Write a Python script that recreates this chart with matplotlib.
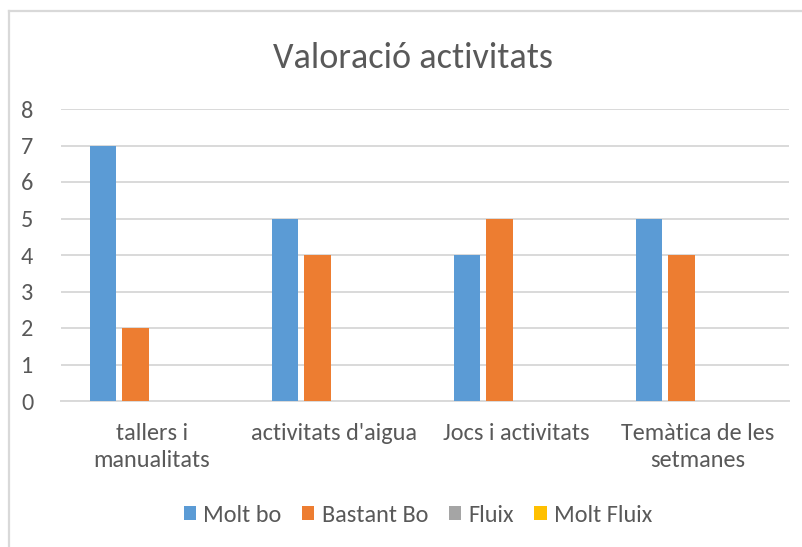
import numpy as np
import matplotlib
matplotlib.use("Agg")
import matplotlib.pyplot as plt
from matplotlib.lines import Line2D

plt.rcParams['font.family'] = ['Carlito', 'DejaVu Sans']

categories = ["tallers i\nmanualitats", "activitats d'aigua", "Jocs i activitats", "Temàtica de les\nsetmanes"]
series_names = ["Molt bo", "Bastant Bo", "Fluix", "Molt Fluix"]
molt_bo = [7, 5, 4, 5]
bastant_bo = [2, 4, 5, 4]
fluix = [0, 0, 0, 0]
molt_fluix = [0, 0, 0, 0]
colors = ["#5B9BD5", "#ED7D31", "#A5A5A5", "#FFC000"]

W, H = 803, 547
fig = plt.figure(figsize=(W / 100, H / 100), dpi=100)
ax = fig.add_axes([61 / W, 1 - 401 / H, (789 - 61) / W, (401 - 109) / H])

x = np.arange(len(categories))
step = 0.179
width = 0.146
handles = []
for i, (vals, name) in enumerate(zip([molt_bo, bastant_bo, fluix, molt_fluix], series_names)):
    b = ax.bar(x + (i - 1.5) * step, vals, width, color=colors[i], label=name, zorder=3)
    handles.append(b)

ax.set_xlim(-0.5, len(categories) - 0.5)
ax.set_ylim(0, 8)
ax.set_yticks(range(0, 9))
ax.set_xticks(x)
ax.set_xticklabels(categories, linespacing=1.35)
ax.grid(axis='y', color='#D9D9D9', linewidth=1.4, zorder=0)
for s in ['top', 'right', 'left']:
    ax.spines[s].set_visible(False)
ax.spines['bottom'].set_color('#D9D9D9')
ax.spines['bottom'].set_linewidth(1.4)
ax.tick_params(axis='both', length=0, colors='#595959', labelsize=17.5)
ax.tick_params(axis='y', pad=20)
ax.tick_params(axis='x', pad=16)

fig.text(413 / W, 1 - 58 / H, "Valoració activitats", ha='center', va='center',
         fontsize=26, color='#595959')

fig.legend(handles=handles, loc='center', bbox_to_anchor=(418 / W, 1 - 515 / H), ncol=4,
           frameon=False, fontsize=17.5, handlelength=0.5, handleheight=0.5,
           handletextpad=0.3, columnspacing=0.85, labelcolor='#595959')

# chart frame (only top and left edges visible)
fig.add_artist(Line2D([9 / W, 9 / W], [0, 1 - 11 / H], color='#D9D9D9', linewidth=1.6))
fig.add_artist(Line2D([9 / W, 1], [1 - 11 / H, 1 - 11 / H], color='#D9D9D9', linewidth=1.6))

fig.savefig("out.png", dpi=100)
